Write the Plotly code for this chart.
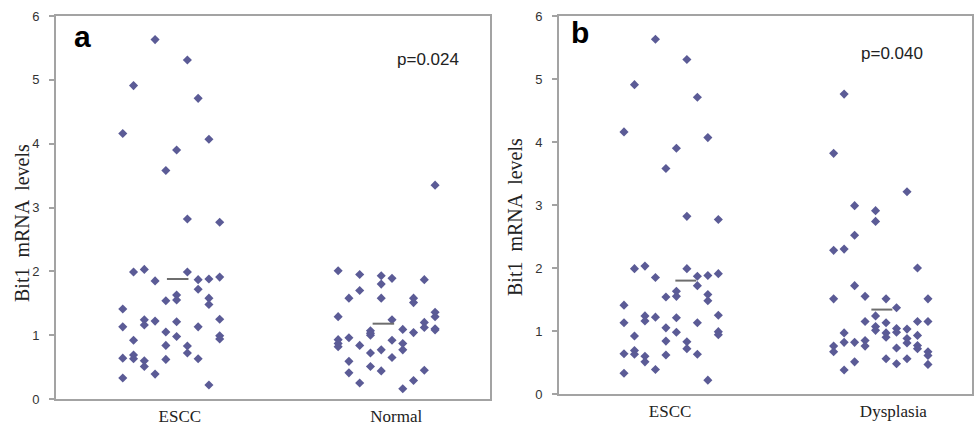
import plotly.graph_objects as go

# ---------------- data ----------------
categories_a = ["ESCC", "Normal"]
categories_b = ["ESCC", "Dysplasia"]

# dot-strip column index (0-9) of each point inside its group, and its value
escc_cols = [0, 0, 0, 0, 0,
             1, 1, 1, 1, 1,
             2, 2, 2, 2, 2,
             3, 3, 3, 3,
             4, 4, 4, 4, 4,
             5, 5, 5, 5, 5,
             6, 6, 6, 6, 6,
             7, 7, 7, 7, 7,
             8, 8, 8, 8, 8,
             9, 9, 9, 9, 9]
escc_values = [4.16, 1.41, 1.13, 0.64, 0.33,
               4.91, 1.99, 0.92, 0.69, 0.63,
               2.03, 1.24, 1.16, 0.60, 0.51,
               5.63, 1.85, 1.22, 0.39,
               3.58, 1.54, 1.05, 0.84, 0.62,
               3.90, 1.63, 1.55, 1.21, 0.98,
               5.31, 2.82, 1.99, 0.83, 0.72,
               4.71, 1.87, 1.72, 1.13, 0.63,
               4.07, 1.88, 1.58, 1.48, 0.22,
               2.77, 1.91, 1.25, 0.99, 0.94]

normal_cols = [0, 0, 0, 0, 0,
               1, 1, 1, 1,
               2, 2, 2, 2,
               3, 3, 3, 3, 3,
               4, 4, 4, 4, 4,
               5, 5, 5, 5,
               6, 6, 6, 6,
               7, 7, 7, 7,
               8, 8, 8, 8,
               9, 9, 9, 9, 9]
normal_values = [2.01, 1.29, 0.93, 0.87, 0.82,
                 1.58, 0.96, 0.59, 0.41,
                 1.95, 1.70, 0.84, 0.25,
                 1.07, 1.03, 1.00, 0.72, 0.51,
                 1.93, 1.80, 1.58, 0.77, 0.44,
                 1.89, 1.24, 0.92, 0.65,
                 1.09, 0.87, 0.77, 0.16,
                 1.58, 1.51, 1.04, 0.29,
                 1.87, 1.20, 1.12, 0.45,
                 3.35, 1.36, 1.29, 1.10, 1.08]

dysplasia_cols = [0, 0, 0, 0, 0,
                  1, 1, 1, 1, 1,
                  2, 2, 2, 2, 2,
                  3, 3, 3, 3,
                  4, 4, 4, 4, 4,
                  5, 5, 5, 5, 5,
                  6, 6, 6, 6, 6,
                  7, 7, 7, 7, 7,
                  8, 8, 8, 8, 8,
                  9, 9, 9, 9, 9]
dysplasia_values = [3.82, 2.28, 1.51, 0.76, 0.67,
                    4.76, 2.30, 0.97, 0.82, 0.38,
                    2.99, 2.52, 1.72, 0.82, 0.51,
                    1.55, 1.15, 0.85, 0.76,
                    2.91, 2.74, 1.24, 1.07, 1.01,
                    1.51, 1.13, 0.97, 0.90, 0.56,
                    1.37, 1.04, 0.98, 0.73, 0.48,
                    3.21, 1.03, 0.88, 0.81, 0.56,
                    2.00, 1.15, 0.93, 0.77, 0.72,
                    1.51, 1.15, 0.67, 0.61, 0.47]

means_a = [1.88, 1.18]
means_b = [1.80, 1.34]
p_text_a = "p=0.024"
p_text_b = "p=0.040"
y_ticks = [0, 1, 2, 3, 4, 5, 6]
y_title = "Bit1  mRNA  levels"

# ---------------- styling / layout ----------------
W, H = 974, 429
MARK = "#5b5b96"
AXIS = "#a3a3a3"
GROUP_GAP = 20          # columns between the start of group 1 and group 2


def px(x):
    return x / W


def py(y):
    return 1 - y / H


def xs(cols, group):
    return [c + group * GROUP_GAP for c in cols]


fig = go.Figure()

panels = [
    dict(xa="x", ya="y", groups=[(escc_cols, escc_values), (normal_cols, normal_values)],
         means=means_a, mean_pos=[5.1, 24.2]),
    dict(xa="x2", ya="y2", groups=[(escc_cols, escc_values), (dysplasia_cols, dysplasia_values)],
         means=means_b, mean_pos=[5.9, 24.6]),
]

for p in panels:
    for g, (cols, vals) in enumerate(p["groups"]):
        fig.add_trace(go.Scatter(
            x=xs(cols, g), y=vals, mode="markers",
            marker=dict(symbol="diamond", size=7, color=MARK, line=dict(width=0)),
            xaxis=p["xa"], yaxis=p["ya"], showlegend=False, hoverinfo="y"))
    for m, c in zip(p["means"], p["mean_pos"]):
        fig.add_trace(go.Scatter(
            x=[c - 1.0, c + 1.0], y=[m, m], mode="lines",
            line=dict(color="#6e6e6e", width=2),
            xaxis=p["xa"], yaxis=p["ya"], showlegend=False, hoverinfo="skip"))

common_y = dict(range=[0, 6], tickvals=y_ticks, ticks="outside", ticklen=5, tickwidth=1.5,
                tickcolor=AXIS, showline=True, linecolor=AXIS, linewidth=2, mirror=True,
                showgrid=False, zeroline=False, ticklabelstandoff=7, automargin=False,
                tickfont=dict(family="Liberation Sans", size=13, color="#333333"))
common_x = dict(showline=True, linecolor=AXIS, linewidth=2, mirror=True, showgrid=False,
                zeroline=False, ticks="", ticklabelstandoff=1, automargin=False,
                tickfont=dict(family="Liberation Serif", size=17, color="#222222"))

fig.update_layout(
    width=W, height=H,
    margin=dict(l=0, r=0, t=0, b=0, autoexpand=False),
    paper_bgcolor="white", plot_bgcolor="white",
    xaxis=dict(domain=[px(56), px(490)], range=[-6.2, 34.1],
               tickvals=[5.3, 25.4], ticktext=categories_a, anchor="y", **common_x),
    yaxis=dict(domain=[py(399), py(16)], anchor="x", **common_y),
    xaxis2=dict(domain=[px(559), px(972)], range=[-6.2, 33.2],
                tickvals=[4.4, 25.7], ticktext=categories_b, anchor="y2", **common_x),
    yaxis2=dict(domain=[py(394), py(16)], anchor="x2", **common_y),
)


def note(text, x, y, size, family, angle=0, color="#222222"):
    return dict(text=text, x=px(x), y=py(y), xref="paper", yref="paper",
                xanchor="center", yanchor="middle", textangle=angle, showarrow=False,
                font=dict(family=family, size=size, color=color))


ann = [
    note("<b>a</b>", 82, 36, 30, "Liberation Sans", color="black"),
    note("<b>b</b>", 580, 33, 30, "Liberation Sans", color="black"),
    note(p_text_a, 428, 59, 17, "Liberation Sans"),
    note(p_text_b, 892, 53, 17, "Liberation Sans"),
    note(y_title, 22, 223, 20, "Liberation Serif", angle=-90),
    note(y_title, 515, 217, 20, "Liberation Serif", angle=-90),
]
fig.update_layout(annotations=ann)

fig.write_html("out.html", config={"displayModeBar": False},
               post_script="document.body.style.margin='0';document.body.style.overflow='hidden';")
